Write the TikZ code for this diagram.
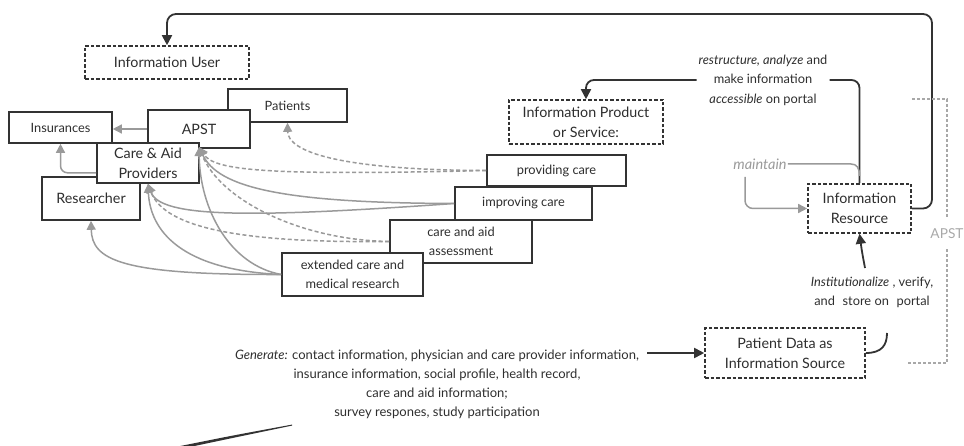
\documentclass[tikz,border=0pt]{standalone}
\usepackage{fontspec}
\setmainfont{Lato}
\usetikzlibrary{arrows.meta,calc}
\definecolor{ink}{HTML}{333333}
\definecolor{txt}{HTML}{2e2e2e}
\definecolor{conn}{HTML}{9a9a9a}
\definecolor{soft}{HTML}{a8a8a8}

\begin{document}
\begin{tikzpicture}[x=1pt,y=-1pt,
  every node/.style={text=txt, font=\fontsize{12.8}{19.5}\selectfont},
  big/.style={font=\fontsize{14.3}{20}\selectfont},
  solidbox/.style={draw=ink, line width=1.6pt, fill=white, inner sep=0pt, align=center},
  dashbox/.style={solidbox, dash pattern=on 3.5pt off 2pt},
  sz/.style 2 args={minimum width=#1pt, minimum height=#2pt},
  graylink/.style={draw=conn, line width=1.5pt, -{Triangle[length=9pt,width=9pt]}},
  graydash/.style={graylink, dash pattern=on 4pt off 2.5pt},
  darkline/.style={draw=ink, line width=1.8pt},
  darklink/.style={darkline, -{Triangle[length=10pt,width=10pt]}},
]
\useasboundingbox (0,0) rectangle (964,446);

% ---- stakeholders on the left ----
\node[dashbox, big, sz={164}{33}] (infouser) at (167,62.5) {Information User};
\node[solidbox, sz={103}{31}] (insur) at (60.5,127.5) {Insurances};
\node[solidbox, sz={119}{33}] (patients) at (287.5,105.5) {Patients};
\node[solidbox, big, sz={102}{38}] (apst) at (199,129) {APST};
\node[solidbox, big, sz={98}{43}] (research) at (91,198.5) {Researcher};
\node[solidbox, big, sz={102}{40}] (care) at (148,163) {Care \& Aid\\Providers};

% ---- services (staircase) ----
\node[solidbox, sz={139}{31}] (provide) at (556.5,170.5) {providing care};
\node[solidbox, sz={137}{33}] (improve) at (523.5,203.5) {improving care};
\node[solidbox, sz={142}{43}] (assess) at (461,241.5) {care and aid\\assessment};
\node[solidbox, sz={141}{43}] (extended) at (352.5,274.5) {extended care and\\medical research};

% ---- information chain ----
\node[dashbox, big, sz={154}{44}] (product) at (586,122) {Information Product\\or Service:};
\node[dashbox, big, sz={103}{49}] (resource) at (859.5,208.5) {Information\\Resource};
\node[dashbox, big, sz={160}{50}] (source) at (785,353) {Patient Data as\\Information Source};

% ---- labels ----
\node[align=center, inner sep=2pt] (restr) at (763,80)
  {\textit{restructure, analyze} and\\make information\\\textit{accessible} on portal};
\node[text=conn, font=\fontsize{14.5}{18}\selectfont, inner sep=1pt] (maint) at (760,164) {\textit{maintain}};
\node[align=center, inner sep=1pt] (inst) at (872,292.5)
  {\textit{Institutionalize} , verify,\\and\hspace{0.6em}store on\hspace{0.6em}portal};
\node[align=center, inner sep=1pt, font=\fontsize{13}{19}\selectfont] (gen) at (437,384.5)
  {\textit{Generate:} contact information, physician and care provider information,\\
   insurance information, social profile, health record,\\
   care and aid information;\\
   survey respones, study participation};
\node[text=soft, font=\fontsize{13.7}{18}\selectfont, inner xsep=1pt, inner ysep=10pt] (apstlbl) at (947,234) {APST};

% ---- free ends ----
\coordinate (careNE) at (199,147);
\coordinate (mfoot) at (745,177);
\coordinate (instfoot) at (865,268);
\coordinate (hookend) at (887,333);
\coordinate (genend) at (647,353);
\coordinate (apsttop) at (912,99);
\coordinate (apstbot) at (907,363);

% ---- gray relations between stakeholders ----
\draw[graylink] (apst.west) -- (apst.west -| insur.east);
\draw[graylink, rounded corners=7pt] ($(care.south west)+(0,-11)$) -| (insur.south);

% ---- services towards stakeholders ----
\draw[graydash] (provide.west) .. controls (340,170) and (288,152) .. (patients.south);
\draw[graydash] (provide.west) .. controls (260,176) and (214,170) .. (careNE);
\draw[graylink] (improve.west) .. controls (280,203) and (218,187) .. (careNE);
\draw[graylink] (improve.west) .. controls (250,218) and (160,218) .. (care.south);
\draw[graydash] (assess.west) .. controls (300,240) and (220,200) .. (careNE);
\draw[graydash] (assess.west) .. controls (250,243) and (165,230) .. (care.south);
\draw[graylink] (extended.west) .. controls (230,265) and (200,210) .. (careNE);
\draw[graylink] (extended.west) .. controls (180,270) and (150,230) .. (care.south);
\draw[graylink] (extended.west) .. controls (120,275) and (92,260) .. (research.south);

% ---- information flow ----
\draw[darklink, rounded corners=9pt] (resource.east) -| (932,14) -| (infouser.north);
\draw[darkline, rounded corners=8pt] (resource.north) |- (restr.east);
\draw[darklink, rounded corners=8pt] (restr.west) -| (product.north);
\draw[draw=conn, line width=1.5pt] (maint.east) -- (851,164)
  .. controls (857,164) and (859.5,168) .. (859.5,176);
\draw[graylink, rounded corners=8pt] (mfoot) |- (resource.west);
\draw[darklink] (instfoot) .. controls (862,252) .. (resource.south);
\draw[darkline] (source.east) .. controls (882,353) and (887,345) .. (hookend);
\draw[darklink] (genend) -- (source.west);

% ---- APST bracket ----
\draw[draw=soft, line width=1.3pt, dash pattern=on 3pt off 2pt] (apsttop) -| (apstlbl.north);
\draw[draw=soft, line width=1.3pt, dash pattern=on 3pt off 2pt] (apstlbl.south) |- (apstbot);

% ---- stray pen stroke ----
\fill[ink] (178,446.5) .. controls (230,436) .. (292,424.6)
  -- (292,425.6) .. controls (230,438.5) .. (178,449.5) -- cycle;
\end{tikzpicture}
\end{document}
